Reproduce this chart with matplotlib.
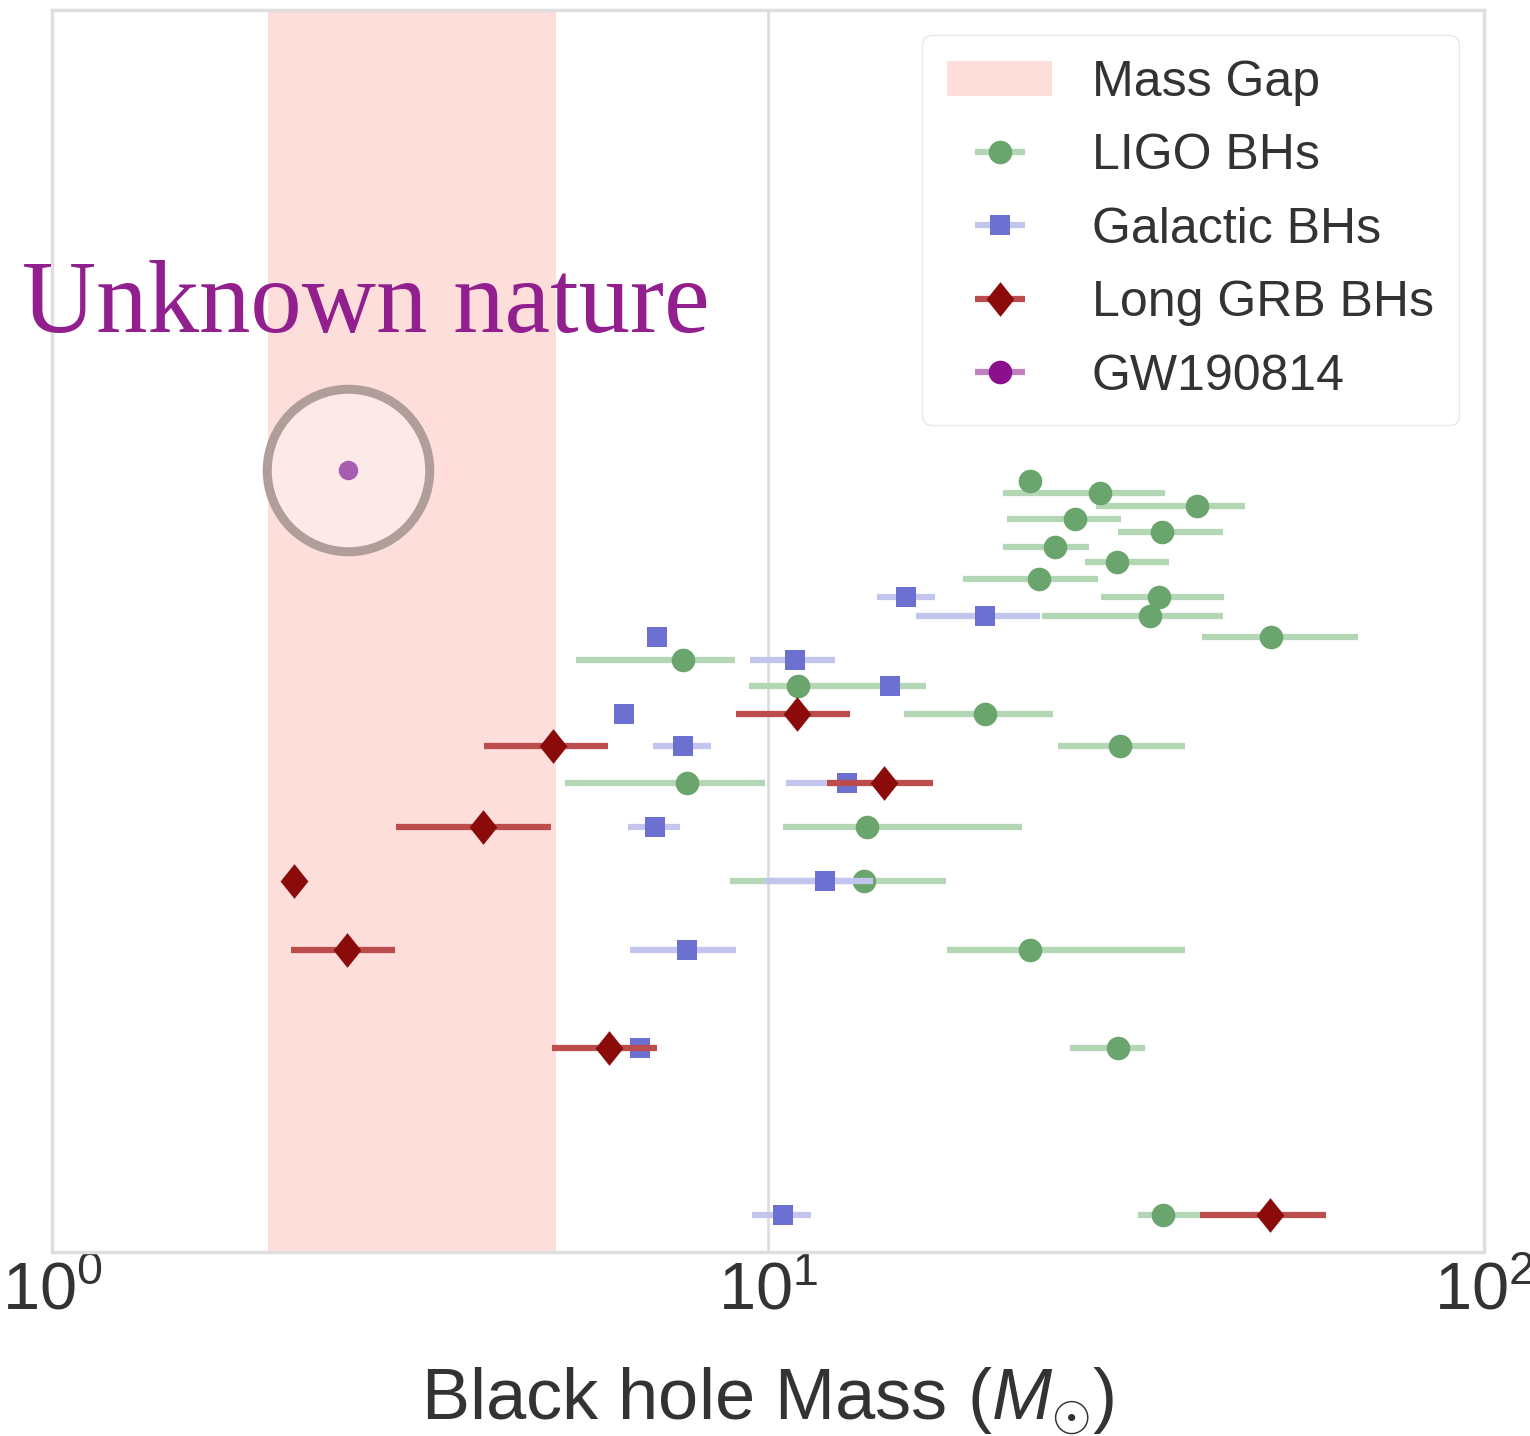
import numpy as np
import matplotlib
matplotlib.use("Agg")
import matplotlib.pyplot as plt

plt.rcParams['font.family'] = ['Liberation Sans', 'DejaVu Sans']
plt.rcParams['mathtext.fontset'] = 'custom'
plt.rcParams['mathtext.rm'] = 'Liberation Sans'
plt.rcParams['mathtext.it'] = 'Liberation Sans:italic'
plt.rcParams['mathtext.bf'] = 'Liberation Sans:bold'

# ---------------- data (row index on log y axis, mass in solar masses) ----
ligo_y = [1, 2, 3, 4, 5, 6, 7, 8, 9, 10, 11, 12, 13, 14, 15, 16, 17, 18, 19, 20, 21]
ligo_m = [35.6, 30.8, 23.2, 13.6, 13.75, 7.7, 31.0, 20.1, 11.0, 7.6, 50.4,
          34.2, 35.2, 23.9, 30.7, 25.2, 35.5, 26.8, 39.7, 29.1, 23.2]
ligo_lo = [2.7, 4.4, 5.4, 4.75, 3.25, 2.5, 5.6, 4.6, 1.6, 2.2, 10.0,
           10.1, 6.0, 5.2, 3.0, 3.9, 4.7, 5.2, 11.0, 7.8, 0.0]
ligo_hi = [4.5, 2.8, 15.0, 4.1, 8.85, 2.2, 7.2, 4.9, 5.6, 1.4, 16.3,
           9.0, 8.2, 5.0, 5.6, 2.9, 7.7, 4.3, 6.7, 6.7, 0.0]

gal_y = [1, 2, 3, 4, 5, 6, 7, 8, 9, 10, 11, 12, 13]
gal_m = [10.5, 6.63, 7.7, 12.0, 6.95, 12.9, 7.61, 6.29, 14.8, 10.9, 7.0, 20.1, 15.6]
gal_lo = [1.0, 0.61, 1.28, 2.1, 0.57, 2.3, 0.7, 0.0, 0.0, 1.46, 0.0, 4.0, 1.4]
gal_hi = [1.0, 0.32, 1.33, 2.0, 0.59, 2.3, 0.71, 0.0, 0.0, 1.5, 0.0, 3.9, 1.5]

grb_y = [1, 2, 3, 4, 5, 6, 7, 8]
grb_m = [50.2, 6.0, 2.58, 2.18, 4.0, 14.5, 5.01, 10.98]
grb_lo = [10.1, 1.0, 0.42, 0.0, 0.98, 2.4, 1.0, 1.96]
grb_hi = [10.0, 1.0, 0.43, 0.0, 0.98, 2.5, 0.97, 2.02]

gw_y = [22]
gw_m = [2.59]

gap_range = [2.0, 5.05]

labels = ["Mass Gap", "LIGO BHs", "Galactic BHs", "Long GRB BHs", "GW190814"]
annotation = "Unknown nature"
xlabel = r"Black hole Mass ($M_{\odot}$)"

# ---------------- figure ----------------
W, H = 1530, 1436
fig = plt.figure(figsize=(W / 100, H / 100), dpi=100)
ax = fig.add_axes([52 / W, (H - 1252) / H, (1484 - 52) / W, (1252 - 10) / H])
ax.set_xscale('log')
ax.set_yscale('log')
ax.set_xlim(1, 100)
ax.set_ylim(0.858, 148.5)

gap = ax.axvspan(gap_range[0], gap_range[1], color='#fddedb', lw=0, zorder=0, label=labels[0])

green_m, green_e = '#6aa56e', '#b3d6b5'
blue_m, blue_e = '#6c70d0', '#c3c5ee'
red_m, red_e = '#8b0a0a', '#bb4d4d'
diamond = [(0, 1), (0.8, 0), (0, -1), (-0.8, 0), (0, 1)]

ligo = ax.errorbar(ligo_m, ligo_y, xerr=[ligo_lo, ligo_hi], fmt='o', ms=17,
                   color=green_m, ecolor=green_e, elinewidth=4.5, capsize=0,
                   mew=0, label=labels[1], zorder=3)
gal = ax.errorbar(gal_m, gal_y, xerr=[gal_lo, gal_hi], fmt='s', ms=15,
                  color=blue_m, ecolor=blue_e, elinewidth=4.5, capsize=0,
                  mew=0, label=labels[2], zorder=4)
grb = ax.errorbar(grb_m, grb_y, xerr=[grb_lo, grb_hi], fmt='none',
                  ecolor=red_e, elinewidth=4.5, capsize=0, zorder=5)
ax.plot(grb_m, grb_y, ls='none', marker=diamond, ms=25, color=red_m, mew=0, zorder=5.5)
grb_handle = ax.errorbar([], [], xerr=[[], []], ls='none', marker=diamond, ms=25,
                         color=red_m, ecolor=red_e, elinewidth=4.5, mew=0)

# GW190814 point and highlight ring
ax.plot(gw_m, gw_y, 'o', ms=117, mfc=(1, 1, 1, 0.35), mec='#b09e9b', mew=6.5, zorder=2)
ax.plot(gw_m, gw_y, 'o', ms=14, color='#a65cb0', mew=0, zorder=6)
gw_handle = ax.errorbar([], [], xerr=[[], []], fmt='o', ms=17, color='#8b108b',
                        ecolor='#c080c0', elinewidth=4.5, mew=0)

# styling
ax.set_yticks([])
ax.set_yticks([], minor=True)
ax.set_xticks([1, 10, 100])
ax.set_xticks([], minor=True)
ax.tick_params(axis='x', length=0, pad=7, labelsize=48, labelcolor='#333333')
ax.grid(True, axis='x', which='major', color='#dddddd', lw=2)
ax.set_axisbelow(True)
for s in ax.spines.values():
    s.set_color('#dedede')
    s.set_linewidth(2.5)

ax.set_xlabel(xlabel, fontsize=52, color='#333333', labelpad=30)

leg = ax.legend(handles=[gap, ligo, gal, grb_handle, gw_handle], labels=labels,
                loc='upper right', fontsize=36, labelspacing=0.55,
                handlelength=2.1, handletextpad=0.8, borderpad=0.5,
                frameon=True, fancybox=True, framealpha=0.85,
                edgecolor='#e4e4e4', borderaxespad=0.5)
for t in leg.get_texts():
    t.set_color('#333333')

fig.text(22 / W, (H - 332) / H, annotation, family=['Liberation Serif', 'DejaVu Serif'],
         fontsize=74, color='#921f8e', ha='left', va='baseline')

fig.savefig('out.png', dpi=100)
